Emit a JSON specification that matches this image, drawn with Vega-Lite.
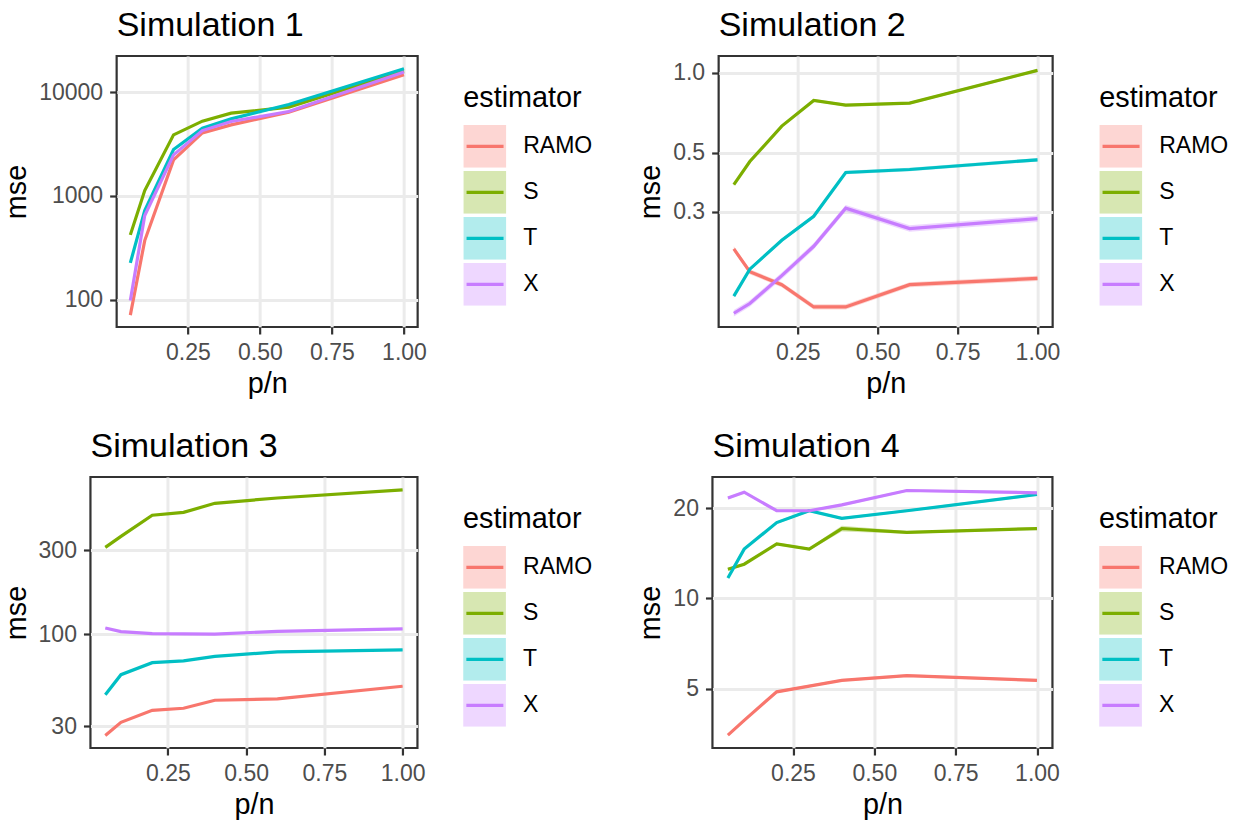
{
  "$schema": "https://vega.github.io/schema/vega-lite/v6.json",
  "padding": {"left": 0, "top": 7, "right": -18, "bottom": 0},
  "background": "white",
  "config": {
    "font": "Liberation Sans",
    "view": {"stroke": "#333333", "strokeWidth": 2.2},
    "title": {"anchor": "start", "frame": "group", "fontSize": 34, "fontWeight": "normal", "color": "black", "font": "Liberation Sans", "offset": 13},
    "axis": {"labelFont": "Liberation Sans", "labelFontSize": 23, "labelColor": "#4D4D4D", "titleFont": "Liberation Sans", "titleFontSize": 28.8, "titleFontWeight": "normal", "titleColor": "black", "tickColor": "#333333", "tickWidth": 2.2, "tickSize": 7, "labelPadding": 7, "domain": false, "grid": true, "gridColor": "#EBEBEB", "gridWidth": 3},
    "axisX": {"titlePadding": 5},
    "axisY": {"titlePadding": 7},
    "legend": {"titleFont": "Liberation Sans", "titleFontSize": 28.8, "titleFontWeight": "normal", "titleColor": "black", "titlePadding": 12, "labelFont": "Liberation Sans", "labelFontSize": 23, "labelColor": "black", "labelOffset": 17, "clipHeight": 43, "rowPadding": 3, "padding": 0}
  },
  "datasets": {
    "sim1": [
      {"pn": 0.05, "estimator": "RAMO", "mse": 71, "lo": 70.3, "hi": 71.7},
      {"pn": 0.1, "estimator": "RAMO", "mse": 371, "lo": 367, "hi": 375},
      {"pn": 0.2, "estimator": "RAMO", "mse": 2220, "lo": 2198, "hi": 2242},
      {"pn": 0.3, "estimator": "RAMO", "mse": 4045, "lo": 4005, "hi": 4085},
      {"pn": 0.4, "estimator": "RAMO", "mse": 4840, "lo": 4792, "hi": 4888},
      {"pn": 0.6, "estimator": "RAMO", "mse": 6410, "lo": 6346, "hi": 6474},
      {"pn": 1.0, "estimator": "RAMO", "mse": 14700, "lo": 14553, "hi": 14847},
      {"pn": 0.05, "estimator": "S", "mse": 421, "lo": 417, "hi": 425},
      {"pn": 0.1, "estimator": "S", "mse": 1125, "lo": 1114, "hi": 1136},
      {"pn": 0.2, "estimator": "S", "mse": 3873, "lo": 3834, "hi": 3912},
      {"pn": 0.3, "estimator": "S", "mse": 5250, "lo": 5198, "hi": 5303},
      {"pn": 0.4, "estimator": "S", "mse": 6270, "lo": 6207, "hi": 6333},
      {"pn": 0.6, "estimator": "S", "mse": 7170, "lo": 7098, "hi": 7242},
      {"pn": 1.0, "estimator": "S", "mse": 16000, "lo": 15840, "hi": 16160},
      {"pn": 0.05, "estimator": "T", "mse": 226, "lo": 224, "hi": 228},
      {"pn": 0.1, "estimator": "T", "mse": 721, "lo": 714, "hi": 728},
      {"pn": 0.2, "estimator": "T", "mse": 2800, "lo": 2772, "hi": 2828},
      {"pn": 0.3, "estimator": "T", "mse": 4500, "lo": 4455, "hi": 4545},
      {"pn": 0.4, "estimator": "T", "mse": 5520, "lo": 5465, "hi": 5575},
      {"pn": 0.6, "estimator": "T", "mse": 7590, "lo": 7514, "hi": 7666},
      {"pn": 1.0, "estimator": "T", "mse": 16800, "lo": 16632, "hi": 16968},
      {"pn": 0.05, "estimator": "X", "mse": 98, "lo": 97, "hi": 99},
      {"pn": 0.1, "estimator": "X", "mse": 646, "lo": 640, "hi": 652},
      {"pn": 0.2, "estimator": "X", "mse": 2485, "lo": 2460, "hi": 2510},
      {"pn": 0.3, "estimator": "X", "mse": 4260, "lo": 4217, "hi": 4303},
      {"pn": 0.4, "estimator": "X", "mse": 5210, "lo": 5158, "hi": 5262},
      {"pn": 0.6, "estimator": "X", "mse": 6500, "lo": 6435, "hi": 6565},
      {"pn": 1.0, "estimator": "X", "mse": 15600, "lo": 15444, "hi": 15756}
    ],
    "sim2": [
      {"pn": 0.05, "estimator": "RAMO", "mse": 0.218, "lo": 0.213, "hi": 0.223},
      {"pn": 0.1, "estimator": "RAMO", "mse": 0.179, "lo": 0.175, "hi": 0.183},
      {"pn": 0.2, "estimator": "RAMO", "mse": 0.160, "lo": 0.1565, "hi": 0.1635},
      {"pn": 0.3, "estimator": "RAMO", "mse": 0.132, "lo": 0.129, "hi": 0.135},
      {"pn": 0.4, "estimator": "RAMO", "mse": 0.132, "lo": 0.129, "hi": 0.135},
      {"pn": 0.6, "estimator": "RAMO", "mse": 0.160, "lo": 0.1565, "hi": 0.1635},
      {"pn": 1.0, "estimator": "RAMO", "mse": 0.169, "lo": 0.1653, "hi": 0.1727},
      {"pn": 0.05, "estimator": "S", "mse": 0.380, "lo": 0.3755, "hi": 0.3845},
      {"pn": 0.1, "estimator": "S", "mse": 0.464, "lo": 0.4585, "hi": 0.4695},
      {"pn": 0.2, "estimator": "S", "mse": 0.630, "lo": 0.6225, "hi": 0.6375},
      {"pn": 0.3, "estimator": "S", "mse": 0.787, "lo": 0.7775, "hi": 0.7965},
      {"pn": 0.4, "estimator": "S", "mse": 0.756, "lo": 0.747, "hi": 0.765},
      {"pn": 0.6, "estimator": "S", "mse": 0.769, "lo": 0.760, "hi": 0.778},
      {"pn": 1.0, "estimator": "S", "mse": 1.02, "lo": 1.008, "hi": 1.032},
      {"pn": 0.05, "estimator": "T", "mse": 0.145, "lo": 0.1428, "hi": 0.1472},
      {"pn": 0.1, "estimator": "T", "mse": 0.183, "lo": 0.1803, "hi": 0.1857},
      {"pn": 0.2, "estimator": "T", "mse": 0.235, "lo": 0.2315, "hi": 0.2385},
      {"pn": 0.3, "estimator": "T", "mse": 0.289, "lo": 0.2847, "hi": 0.2933},
      {"pn": 0.4, "estimator": "T", "mse": 0.422, "lo": 0.4157, "hi": 0.4283},
      {"pn": 0.6, "estimator": "T", "mse": 0.433, "lo": 0.4265, "hi": 0.4395},
      {"pn": 1.0, "estimator": "T", "mse": 0.471, "lo": 0.464, "hi": 0.478},
      {"pn": 0.05, "estimator": "X", "mse": 0.125, "lo": 0.1215, "hi": 0.1285},
      {"pn": 0.1, "estimator": "X", "mse": 0.136, "lo": 0.1322, "hi": 0.1398},
      {"pn": 0.2, "estimator": "X", "mse": 0.173, "lo": 0.1682, "hi": 0.1778},
      {"pn": 0.3, "estimator": "X", "mse": 0.223, "lo": 0.2168, "hi": 0.2292},
      {"pn": 0.4, "estimator": "X", "mse": 0.310, "lo": 0.3013, "hi": 0.3187},
      {"pn": 0.6, "estimator": "X", "mse": 0.260, "lo": 0.2527, "hi": 0.2673},
      {"pn": 1.0, "estimator": "X", "mse": 0.283, "lo": 0.2751, "hi": 0.2909}
    ],
    "sim3": [
      {"pn": 0.05, "estimator": "RAMO", "mse": 26.6, "lo": 26.3, "hi": 26.9},
      {"pn": 0.1, "estimator": "RAMO", "mse": 31.6, "lo": 31.3, "hi": 31.9},
      {"pn": 0.2, "estimator": "RAMO", "mse": 37.0, "lo": 36.6, "hi": 37.4},
      {"pn": 0.3, "estimator": "RAMO", "mse": 38.0, "lo": 37.6, "hi": 38.4},
      {"pn": 0.4, "estimator": "RAMO", "mse": 42.2, "lo": 41.8, "hi": 42.6},
      {"pn": 0.6, "estimator": "RAMO", "mse": 43.0, "lo": 42.6, "hi": 43.4},
      {"pn": 1.0, "estimator": "RAMO", "mse": 50.7, "lo": 50.2, "hi": 51.2},
      {"pn": 0.05, "estimator": "S", "mse": 312, "lo": 309, "hi": 315},
      {"pn": 0.1, "estimator": "S", "mse": 360, "lo": 356, "hi": 364},
      {"pn": 0.2, "estimator": "S", "mse": 475, "lo": 470, "hi": 480},
      {"pn": 0.3, "estimator": "S", "mse": 493, "lo": 488, "hi": 498},
      {"pn": 0.4, "estimator": "S", "mse": 555, "lo": 549, "hi": 561},
      {"pn": 0.6, "estimator": "S", "mse": 595, "lo": 589, "hi": 601},
      {"pn": 1.0, "estimator": "S", "mse": 661, "lo": 654, "hi": 668},
      {"pn": 0.05, "estimator": "T", "mse": 45.4, "lo": 44.9, "hi": 45.9},
      {"pn": 0.1, "estimator": "T", "mse": 59, "lo": 58.4, "hi": 59.6},
      {"pn": 0.2, "estimator": "T", "mse": 69, "lo": 68.3, "hi": 69.7},
      {"pn": 0.3, "estimator": "T", "mse": 70.6, "lo": 69.9, "hi": 71.3},
      {"pn": 0.4, "estimator": "T", "mse": 75, "lo": 74.2, "hi": 75.8},
      {"pn": 0.6, "estimator": "T", "mse": 79.4, "lo": 78.6, "hi": 80.2},
      {"pn": 1.0, "estimator": "T", "mse": 81.5, "lo": 80.7, "hi": 82.3},
      {"pn": 0.05, "estimator": "X", "mse": 108.7, "lo": 107.6, "hi": 109.8},
      {"pn": 0.1, "estimator": "X", "mse": 103.6, "lo": 102.6, "hi": 104.6},
      {"pn": 0.2, "estimator": "X", "mse": 101, "lo": 100, "hi": 102},
      {"pn": 0.3, "estimator": "X", "mse": 100.5, "lo": 99.5, "hi": 101.5},
      {"pn": 0.4, "estimator": "X", "mse": 100.3, "lo": 99.3, "hi": 101.3},
      {"pn": 0.6, "estimator": "X", "mse": 104, "lo": 103, "hi": 105},
      {"pn": 1.0, "estimator": "X", "mse": 107.3, "lo": 106.2, "hi": 108.4}
    ],
    "sim4": [
      {"pn": 0.05, "estimator": "RAMO", "mse": 3.5, "lo": 3.465, "hi": 3.535},
      {"pn": 0.1, "estimator": "RAMO", "mse": 3.92, "lo": 3.88, "hi": 3.96},
      {"pn": 0.2, "estimator": "RAMO", "mse": 4.88, "lo": 4.83, "hi": 4.93},
      {"pn": 0.3, "estimator": "RAMO", "mse": 5.1, "lo": 5.05, "hi": 5.15},
      {"pn": 0.4, "estimator": "RAMO", "mse": 5.33, "lo": 5.28, "hi": 5.38},
      {"pn": 0.6, "estimator": "RAMO", "mse": 5.53, "lo": 5.47, "hi": 5.59},
      {"pn": 1.0, "estimator": "RAMO", "mse": 5.33, "lo": 5.28, "hi": 5.38},
      {"pn": 0.05, "estimator": "S", "mse": 12.5, "lo": 12.37, "hi": 12.63},
      {"pn": 0.1, "estimator": "S", "mse": 13.0, "lo": 12.87, "hi": 13.13},
      {"pn": 0.2, "estimator": "S", "mse": 15.2, "lo": 15.05, "hi": 15.35},
      {"pn": 0.3, "estimator": "S", "mse": 14.6, "lo": 14.45, "hi": 14.75},
      {"pn": 0.4, "estimator": "S", "mse": 17.1, "lo": 16.72, "hi": 17.48},
      {"pn": 0.6, "estimator": "S", "mse": 16.6, "lo": 16.43, "hi": 16.77},
      {"pn": 1.0, "estimator": "S", "mse": 17.1, "lo": 16.93, "hi": 17.27},
      {"pn": 0.05, "estimator": "T", "mse": 11.7, "lo": 11.58, "hi": 11.82},
      {"pn": 0.1, "estimator": "T", "mse": 14.6, "lo": 14.45, "hi": 14.75},
      {"pn": 0.2, "estimator": "T", "mse": 17.9, "lo": 17.72, "hi": 18.08},
      {"pn": 0.3, "estimator": "T", "mse": 19.6, "lo": 19.4, "hi": 19.8},
      {"pn": 0.4, "estimator": "T", "mse": 18.5, "lo": 18.32, "hi": 18.68},
      {"pn": 0.6, "estimator": "T", "mse": 19.6, "lo": 19.4, "hi": 19.8},
      {"pn": 1.0, "estimator": "T", "mse": 22.2, "lo": 21.98, "hi": 22.42},
      {"pn": 0.05, "estimator": "X", "mse": 21.6, "lo": 21.38, "hi": 21.82},
      {"pn": 0.1, "estimator": "X", "mse": 22.6, "lo": 22.37, "hi": 22.83},
      {"pn": 0.2, "estimator": "X", "mse": 19.6, "lo": 19.4, "hi": 19.8},
      {"pn": 0.3, "estimator": "X", "mse": 19.6, "lo": 19.4, "hi": 19.8},
      {"pn": 0.4, "estimator": "X", "mse": 20.5, "lo": 20.3, "hi": 20.7},
      {"pn": 0.6, "estimator": "X", "mse": 22.9, "lo": 22.67, "hi": 23.13},
      {"pn": 1.0, "estimator": "X", "mse": 22.5, "lo": 22.28, "hi": 22.72}
    ]
  },
  "resolve": {"scale": {"fill": "independent", "stroke": "independent"}},
  "spacing": 29,
  "center": true,
  "vconcat": [
    {
      "spacing": 41,
      "resolve": {"scale": {"fill": "independent", "stroke": "independent"}},
      "hconcat": [
        {
          "title": "Simulation 1",
          "width": 301, "height": 271,
          "data": {"name": "sim1"},
          "resolve": {"axis": {"x": "independent", "y": "independent"}},
          "layer": [
            {
              "mark": {"type": "area", "opacity": 0.3},
              "encoding": {
                "x": {"field": "pn", "type": "quantitative", "scale": {"domain": [0.0025, 1.0475], "nice": false, "zero": false}, "axis": {"values": [0.25, 0.5, 0.75, 1], "format": ".2f", "title": "p/n", "orient": "bottom"}},
                "y": {"field": "lo", "type": "quantitative", "scale": {"type": "log", "domain": [54.5, 22300], "nice": false}, "axis": {"values": [100, 1000, 10000], "format": "d", "title": "mse", "orient": "left"}},
                "y2": {"field": "hi"},
                "fill": {"field": "estimator", "type": "nominal", "scale": {"range": ["#F8766D", "#7CAE00", "#00BFC4", "#C77CFF"]}, "legend": {"orient": "none", "legendX": 346.6, "legendY": 28, "title": "estimator", "symbolType": "square", "symbolSize": 1823, "symbolStrokeWidth": 0, "symbolOpacity": 0.3, "zindex": 1}}
              }
            },
            {
              "mark": {"type": "line", "strokeWidth": 3.2},
              "encoding": {
                "x": {"field": "pn", "type": "quantitative", "axis": {"values": [0.125, 0.375, 0.625, 0.875], "labels": false, "ticks": false, "title": null, "gridWidth": 1.5, "orient": "bottom"}},
                "y": {"field": "mse", "type": "quantitative", "axis": {"values": [316.23, 3162.3], "labels": false, "ticks": false, "title": null, "gridWidth": 1.5, "orient": "left"}},
                "stroke": {"field": "estimator", "type": "nominal", "scale": {"domain": ["RAMO", "S", "T", "X"], "range": ["#F8766D", "#7CAE00", "#00BFC4", "#C77CFF"]}, "legend": {"orient": "none", "legendX": 346.6, "legendY": 28, "title": " ", "titleOpacity": 0, "labelExpr": "''", "symbolType": "stroke", "symbolSize": 1369, "symbolStrokeWidth": 3.2, "symbolOffset": 1.3, "zindex": 2}}
              }
            }
          ]
        },
        {
          "title": "Simulation 2",
          "width": 334, "height": 271,
          "data": {"name": "sim2"},
          "resolve": {"axis": {"x": "independent", "y": "independent"}},
          "layer": [
            {
              "mark": {"type": "area", "opacity": 0.3},
              "encoding": {
                "x": {"field": "pn", "type": "quantitative", "scale": {"domain": [0.0025, 1.0475], "nice": false, "zero": false}, "axis": {"values": [0.25, 0.5, 0.75, 1], "format": ".2f", "title": "p/n", "orient": "bottom"}},
                "y": {"field": "lo", "type": "quantitative", "scale": {"type": "log", "domain": [0.111, 1.155], "nice": false}, "axis": {"values": [0.3, 0.5, 1.0], "format": ".1f", "title": "mse", "orient": "left"}},
                "y2": {"field": "hi"},
                "fill": {"field": "estimator", "type": "nominal", "scale": {"range": ["#F8766D", "#7CAE00", "#00BFC4", "#C77CFF"]}, "legend": {"orient": "none", "legendX": 380.6, "legendY": 28, "title": "estimator", "symbolType": "square", "symbolSize": 1823, "symbolStrokeWidth": 0, "symbolOpacity": 0.3, "zindex": 1}}
              }
            },
            {
              "mark": {"type": "line", "strokeWidth": 3.2},
              "encoding": {
                "x": {"field": "pn", "type": "quantitative", "axis": {"values": [0.125, 0.375, 0.625, 0.875], "labels": false, "ticks": false, "title": null, "gridWidth": 1.5, "orient": "bottom"}},
                "y": {"field": "mse", "type": "quantitative", "axis": {"values": [0.18, 0.2324, 0.3873, 0.7071], "labels": false, "ticks": false, "title": null, "gridWidth": 1.5, "orient": "left"}},
                "stroke": {"field": "estimator", "type": "nominal", "scale": {"domain": ["RAMO", "S", "T", "X"], "range": ["#F8766D", "#7CAE00", "#00BFC4", "#C77CFF"]}, "legend": {"orient": "none", "legendX": 380.6, "legendY": 28, "title": " ", "titleOpacity": 0, "labelExpr": "''", "symbolType": "stroke", "symbolSize": 1369, "symbolStrokeWidth": 3.2, "symbolOffset": 1.3, "zindex": 2}}
              }
            }
          ]
        }
      ]
    },
    {
      "spacing": 42,
      "resolve": {"scale": {"fill": "independent", "stroke": "independent"}},
      "hconcat": [
        {
          "title": "Simulation 3",
          "width": 327, "height": 271,
          "data": {"name": "sim3"},
          "resolve": {"axis": {"x": "independent", "y": "independent"}},
          "layer": [
            {
              "mark": {"type": "area", "opacity": 0.3},
              "encoding": {
                "x": {"field": "pn", "type": "quantitative", "scale": {"domain": [0.0025, 1.0475], "nice": false, "zero": false}, "axis": {"values": [0.25, 0.5, 0.75, 1], "format": ".2f", "title": "p/n", "orient": "bottom"}},
                "y": {"field": "lo", "type": "quantitative", "scale": {"type": "log", "domain": [22.6, 783], "nice": false}, "axis": {"values": [30, 100, 300], "format": "d", "title": "mse", "orient": "left"}},
                "y2": {"field": "hi"},
                "fill": {"field": "estimator", "type": "nominal", "scale": {"range": ["#F8766D", "#7CAE00", "#00BFC4", "#C77CFF"]}, "legend": {"orient": "none", "legendX": 372.6, "legendY": 28, "title": "estimator", "symbolType": "square", "symbolSize": 1823, "symbolStrokeWidth": 0, "symbolOpacity": 0.3, "zindex": 1}}
              }
            },
            {
              "mark": {"type": "line", "strokeWidth": 3.2},
              "encoding": {
                "x": {"field": "pn", "type": "quantitative", "axis": {"values": [0.125, 0.375, 0.625, 0.875], "labels": false, "ticks": false, "title": null, "gridWidth": 1.5, "orient": "bottom"}},
                "y": {"field": "mse", "type": "quantitative", "axis": {"values": [54.77, 173.2, 547.7], "labels": false, "ticks": false, "title": null, "gridWidth": 1.5, "orient": "left"}},
                "stroke": {"field": "estimator", "type": "nominal", "scale": {"domain": ["RAMO", "S", "T", "X"], "range": ["#F8766D", "#7CAE00", "#00BFC4", "#C77CFF"]}, "legend": {"orient": "none", "legendX": 372.6, "legendY": 28, "title": " ", "titleOpacity": 0, "labelExpr": "''", "symbolType": "stroke", "symbolSize": 1369, "symbolStrokeWidth": 3.2, "symbolOffset": 1.3, "zindex": 2}}
              }
            }
          ]
        },
        {
          "title": "Simulation 4",
          "width": 340, "height": 271,
          "data": {"name": "sim4"},
          "resolve": {"axis": {"x": "independent", "y": "independent"}},
          "layer": [
            {
              "mark": {"type": "area", "opacity": 0.3},
              "encoding": {
                "x": {"field": "pn", "type": "quantitative", "scale": {"domain": [0.0025, 1.0475], "nice": false, "zero": false}, "axis": {"values": [0.25, 0.5, 0.75, 1], "format": ".2f", "title": "p/n", "orient": "bottom"}},
                "y": {"field": "lo", "type": "quantitative", "scale": {"type": "log", "domain": [3.17, 25.4], "nice": false}, "axis": {"values": [5, 10, 20], "format": "d", "title": "mse", "orient": "left"}},
                "y2": {"field": "hi"},
                "fill": {"field": "estimator", "type": "nominal", "scale": {"range": ["#F8766D", "#7CAE00", "#00BFC4", "#C77CFF"]}, "legend": {"orient": "none", "legendX": 386.6, "legendY": 28, "title": "estimator", "symbolType": "square", "symbolSize": 1823, "symbolStrokeWidth": 0, "symbolOpacity": 0.3, "zindex": 1}}
              }
            },
            {
              "mark": {"type": "line", "strokeWidth": 3.2},
              "encoding": {
                "x": {"field": "pn", "type": "quantitative", "axis": {"values": [0.125, 0.375, 0.625, 0.875], "labels": false, "ticks": false, "title": null, "gridWidth": 1.5, "orient": "bottom"}},
                "y": {"field": "mse", "type": "quantitative", "axis": {"values": [3.536, 7.071, 14.142], "labels": false, "ticks": true, "tickSize": 202, "tickOpacity": 0, "title": null, "gridWidth": 1.5, "orient": "right"}},
                "stroke": {"field": "estimator", "type": "nominal", "scale": {"domain": ["RAMO", "S", "T", "X"], "range": ["#F8766D", "#7CAE00", "#00BFC4", "#C77CFF"]}, "legend": {"orient": "none", "legendX": 386.6, "legendY": 28, "title": " ", "titleOpacity": 0, "labelExpr": "''", "symbolType": "stroke", "symbolSize": 1369, "symbolStrokeWidth": 3.2, "symbolOffset": 1.3, "zindex": 2}}
              }
            }
          ]
        }
      ]
    }
  ]
}
